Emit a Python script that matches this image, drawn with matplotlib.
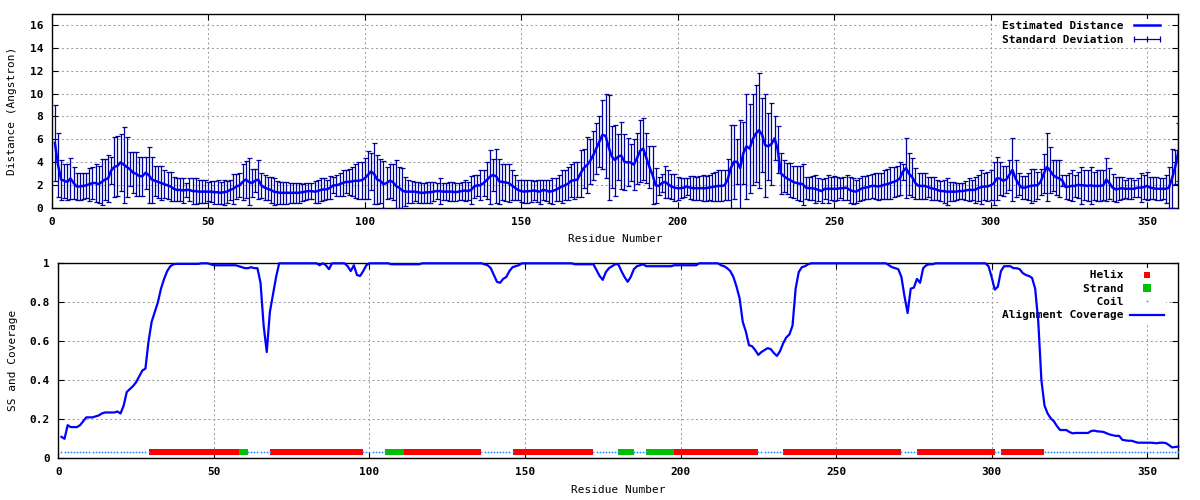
import numpy as np
import matplotlib
matplotlib.use('Agg')
import matplotlib.pyplot as plt
from matplotlib.lines import Line2D

# residues 1..360
residue = np.arange(1, 361)

# estimated distance (mean)
est_dist = [
    5.7, 3.8, 2.5, 2.4, 2.3, 2.6, 2.2, 1.9, 1.9, 1.95,
    2.0, 2.1, 2.2, 2.2, 2.1, 2.3, 2.5, 2.6, 3.3, 3.6,
    3.7, 4.0, 3.8, 3.6, 3.4, 3.1, 3.0, 2.8, 2.8, 3.1,
    2.9, 2.5, 2.4, 2.3, 2.2, 2.1, 2.0, 1.9, 1.7, 1.6,
    1.6, 1.55, 1.6, 1.6, 1.5, 1.5, 1.45, 1.45, 1.45, 1.45,
    1.45, 1.4, 1.4, 1.35, 1.4, 1.45, 1.6, 1.7, 1.9, 2.0,
    2.3, 2.5, 2.3, 2.2, 2.4, 2.5, 2.0, 1.8, 1.7, 1.6,
    1.45, 1.4, 1.35, 1.35, 1.35, 1.35, 1.35, 1.35, 1.35, 1.4,
    1.45, 1.5, 1.5, 1.45, 1.5, 1.6, 1.65, 1.65, 1.8, 2.0,
    2.0, 2.1, 2.2, 2.3, 2.3, 2.35, 2.4, 2.4, 2.45, 2.6,
    2.9, 3.2, 3.0, 2.5, 2.4, 2.1, 2.2, 2.4, 2.3, 1.95,
    1.8, 1.55, 1.45, 1.45, 1.45, 1.45, 1.4, 1.35, 1.35, 1.4,
    1.4, 1.45, 1.5, 1.5, 1.45, 1.45, 1.45, 1.45, 1.4, 1.45,
    1.5, 1.55, 1.5, 1.6, 1.9, 2.0, 2.0, 2.2, 2.45, 2.75,
    2.9, 2.8, 2.35, 2.3, 2.25, 2.2, 2.0, 1.8, 1.6, 1.5,
    1.45, 1.5, 1.5, 1.55, 1.5, 1.45, 1.6, 1.55, 1.45, 1.5,
    1.6, 1.75, 1.9, 2.0, 2.15, 2.4, 2.45, 2.5, 3.05, 3.5,
    3.75, 4.1, 4.6, 5.2, 5.8, 6.4, 6.3, 5.3, 4.5, 4.2,
    4.5, 4.6, 4.05, 4.0, 4.0, 3.8, 4.35, 5.0, 5.2, 4.4,
    3.6, 2.9, 2.0, 1.95, 2.2, 2.3, 2.1, 1.9, 1.8, 1.75,
    1.75, 1.8, 1.9, 1.8, 1.75, 1.75, 1.75, 1.75, 1.75, 1.8,
    1.85, 1.9, 1.95, 1.95, 2.0, 2.5, 3.5, 4.05, 4.05, 3.5,
    4.8, 5.4, 5.2, 6.0, 6.5, 6.8, 6.4, 5.5, 5.4, 5.6,
    6.1, 5.1, 3.05, 2.8, 2.6, 2.45, 2.3, 2.2, 2.15, 2.1,
    1.8, 1.75, 1.75, 1.7, 1.6, 1.5, 1.7, 1.7, 1.7, 1.7,
    1.7, 1.75, 1.75, 1.8, 1.6, 1.5, 1.45, 1.6, 1.75, 1.8,
    1.85, 1.95, 1.95, 1.9, 1.95, 2.05, 2.1, 2.2, 2.3, 2.4,
    2.6, 3.2, 3.5, 3.0, 2.7, 2.2, 1.95, 1.95, 1.95, 1.85,
    1.75, 1.7, 1.6, 1.5, 1.5, 1.45, 1.45, 1.45, 1.45, 1.5,
    1.5, 1.55, 1.6, 1.6, 1.6, 1.75, 1.85, 1.9, 1.9, 2.0,
    2.15, 2.6, 2.6, 2.4, 2.5, 2.9, 3.35, 2.6, 2.1, 1.8,
    1.8, 1.9, 1.95, 2.0, 2.0, 2.3, 3.0, 3.6, 3.3, 2.9,
    2.7, 2.6, 2.4, 1.85, 1.9, 1.95, 1.95, 2.05, 2.0, 2.0,
    1.95, 2.0, 1.95, 1.95, 1.95, 2.0, 2.5, 2.2, 1.8, 1.65,
    1.7, 1.75, 1.7, 1.7, 1.7, 1.7, 1.8, 1.8, 1.85, 1.95,
    1.8, 1.75, 1.7, 1.7, 1.7, 1.7, 1.8, 2.6, 3.6, 4.9,
]

# top of each error bar (mean + std)
upper_dev = [
    9.0, 6.6, 4.25, 3.9, 3.9, 4.4, 3.6, 3.1, 3.1, 3.1,
    3.1, 3.55, 3.6, 3.85, 3.7, 4.3, 4.3, 4.65, 4.5, 6.2,
    6.3, 6.45, 7.1, 6.2, 4.9, 4.9, 4.9, 4.5, 4.5, 4.5,
    5.3, 4.5, 3.7, 3.7, 3.7, 3.3, 3.2, 3.2, 2.75, 2.6,
    2.6, 2.6, 2.2, 2.6, 2.6, 2.6, 2.45, 2.45, 2.45, 2.3,
    2.35, 2.4, 2.45, 2.3, 2.5, 2.4, 2.5, 3.0, 3.0, 3.05,
    3.9, 4.1, 4.35, 3.4, 3.4, 4.2, 3.1, 2.9, 2.7, 2.7,
    2.6, 2.4, 2.3, 2.3, 2.3, 2.2, 2.2, 2.2, 2.2, 2.15,
    2.2, 2.2, 2.2, 2.4, 2.5, 2.6, 2.6, 2.5, 2.8, 2.7,
    2.9, 3.1, 3.3, 3.3, 3.4, 3.6, 3.9, 4.0, 4.05, 4.4,
    5.0, 4.8, 5.65, 4.65, 4.3, 4.15, 3.6, 3.9, 3.9, 4.2,
    3.6, 3.55, 2.7, 2.45, 2.4, 2.3, 2.3, 2.2, 2.2, 2.3,
    2.3, 2.3, 2.2, 2.6, 2.2, 2.2, 2.3, 2.3, 2.2, 2.2,
    2.3, 2.45, 2.3, 2.8, 2.9, 2.9, 3.3, 3.3, 4.05, 5.1,
    4.3, 5.15, 4.3, 3.85, 3.9, 3.85, 3.3, 2.9, 2.5, 2.45,
    2.45, 2.5, 2.45, 2.4, 2.45, 2.5, 2.45, 2.5, 2.45, 2.6,
    2.6, 2.9, 3.3, 3.3, 3.6, 3.85, 4.05, 4.0, 5.1, 5.2,
    6.2, 6.05, 6.75, 7.45, 8.0, 9.4, 10.0, 9.85, 7.2, 7.3,
    6.5, 7.5, 6.5, 6.1, 5.6, 6.0, 6.6, 7.7, 7.9, 6.6,
    5.4, 5.4, 3.5, 2.75, 3.0, 3.7, 3.3, 3.0, 3.0, 2.75,
    2.6, 2.6, 2.6, 2.8, 2.8, 2.75, 2.8, 2.9, 2.85, 2.9,
    3.1, 3.2, 3.3, 3.3, 3.3, 4.3, 7.25, 7.3, 6.0, 7.7,
    7.5, 10.0, 9.1, 10.0, 10.7, 11.8, 9.65, 10.0, 8.3, 9.2,
    8.0, 7.15, 4.85, 4.2, 3.95, 3.95, 3.7, 3.7, 3.7, 3.9,
    2.75, 2.75, 2.8, 2.9, 2.6, 2.55, 2.6, 2.9, 2.7, 2.8,
    2.7, 2.6, 2.75, 2.9, 2.75, 2.6, 2.45, 2.6, 2.8, 2.8,
    2.9, 3.0, 3.1, 3.1, 3.05, 3.3, 3.4, 3.6, 3.6, 3.7,
    4.05, 3.9, 6.1, 4.85, 4.4, 3.55, 3.1, 3.05, 3.05, 2.7,
    2.75, 2.7, 2.45, 2.4, 2.5, 2.65, 2.3, 2.3, 2.2, 2.2,
    2.2, 2.4, 2.6, 2.45, 2.75, 2.9, 3.3, 3.1, 3.2, 3.3,
    4.0, 4.5, 4.05, 3.7, 3.7, 4.2, 6.1, 4.2, 3.05, 2.8,
    2.8, 3.05, 3.4, 3.4, 3.2, 3.4, 4.7, 6.6, 5.3, 4.25,
    4.2, 4.25, 2.9, 2.9, 3.1, 3.3, 2.9, 3.2, 3.6, 3.3,
    3.3, 3.6, 3.2, 3.3, 3.3, 3.3, 4.35, 3.55, 3.0, 2.75,
    2.7, 2.7, 2.5, 2.6, 2.6, 2.45, 2.6, 3.05, 2.9, 3.2,
    2.75, 2.7, 2.7, 2.65, 2.6, 2.9, 3.6, 5.2, 5.1, 7.4,
]

# alignment coverage
coverage = [
    0.11, 0.10, 0.17, 0.16, 0.16, 0.16, 0.17, 0.19, 0.21, 0.21,
    0.21, 0.215, 0.22, 0.23, 0.235, 0.235, 0.235, 0.235, 0.24, 0.23,
    0.27, 0.34, 0.355, 0.37, 0.39, 0.42, 0.45, 0.46, 0.6, 0.7,
    0.75, 0.8, 0.87, 0.92, 0.96, 0.985, 0.995, 0.997, 0.997, 0.997,
    0.997, 0.997, 0.997, 0.997, 0.997, 1.0, 1.0, 1.0, 0.995, 0.99,
    0.99, 0.99, 0.99, 0.99, 0.99, 0.99, 0.99, 0.985, 0.98, 0.975,
    0.975, 0.98, 0.975, 0.975, 0.9, 0.68, 0.545, 0.75, 0.84, 0.93,
    1.0, 1.0, 1.0, 1.0, 1.0, 1.0, 1.0, 1.0, 1.0, 1.0,
    1.0, 1.0, 1.0, 0.99, 1.0, 0.99, 0.97, 1.0, 1.0, 1.0,
    1.0, 1.0, 0.985, 0.96, 0.99, 0.94, 0.935, 0.96, 0.99, 1.0,
    1.0, 1.0, 1.0, 1.0, 1.0, 1.0, 0.995, 0.995, 0.995, 0.995,
    0.995, 0.995, 0.995, 0.995, 0.995, 0.995, 1.0, 1.0, 1.0, 1.0,
    1.0, 1.0, 1.0, 1.0, 1.0, 1.0, 1.0, 1.0, 1.0, 1.0,
    1.0, 1.0, 1.0, 1.0, 1.0, 1.0, 0.995, 0.99, 0.975, 0.94,
    0.905, 0.9, 0.92, 0.93, 0.96, 0.98, 0.985, 0.99, 1.0, 1.0,
    1.0, 1.0, 1.0, 1.0, 1.0, 1.0, 1.0, 1.0, 1.0, 1.0,
    1.0, 1.0, 1.0, 1.0, 1.0, 0.995, 0.995, 0.995, 0.995, 0.995,
    0.995, 0.995, 0.965, 0.935, 0.915, 0.955, 0.975, 0.985, 0.995, 0.995,
    0.96, 0.93, 0.905, 0.93, 0.97, 0.985, 0.99, 0.995, 0.985, 0.985,
    0.985, 0.985, 0.985, 0.985, 0.985, 0.985, 0.985, 0.99, 0.99, 0.99,
    0.99, 0.99, 0.99, 0.99, 0.99, 1.0, 1.0, 1.0, 1.0, 1.0,
    1.0, 1.0, 0.99, 0.985, 0.975, 0.96, 0.93, 0.88, 0.82, 0.7,
    0.65, 0.58, 0.575, 0.555, 0.53, 0.545, 0.555, 0.565, 0.56, 0.54,
    0.525, 0.55, 0.59, 0.62, 0.635, 0.68, 0.87, 0.955, 0.98, 0.985,
    0.995, 1.0, 1.0, 1.0, 1.0, 1.0, 1.0, 1.0, 1.0, 1.0,
    1.0, 1.0, 1.0, 1.0, 1.0, 1.0, 1.0, 1.0, 1.0, 1.0,
    1.0, 1.0, 1.0, 1.0, 1.0, 1.0, 0.99, 0.98, 0.975, 0.97,
    0.93, 0.83, 0.745, 0.87, 0.875, 0.92, 0.9, 0.975, 0.99, 0.995,
    0.995, 1.0, 1.0, 1.0, 1.0, 1.0, 1.0, 1.0, 1.0, 1.0,
    1.0, 1.0, 1.0, 1.0, 1.0, 1.0, 1.0, 1.0, 0.985, 0.93,
    0.865, 0.88, 0.96, 0.985, 0.985, 0.985, 0.975, 0.975, 0.97, 0.95,
    0.94, 0.935, 0.925, 0.87, 0.7, 0.4, 0.27, 0.23, 0.205, 0.19,
    0.165, 0.145, 0.145, 0.145, 0.135, 0.128, 0.13, 0.13, 0.13, 0.13,
    0.13, 0.14, 0.142, 0.138, 0.137, 0.135, 0.128, 0.122, 0.118, 0.115,
    0.115, 0.095, 0.092, 0.09, 0.09, 0.085, 0.08, 0.08, 0.08, 0.08,
    0.08, 0.079, 0.077, 0.08, 0.08, 0.078, 0.068, 0.056, 0.058, 0.06,
]

# secondary structure segments (first, last residue)
helix_segments = [(30, 58), (69, 97), (111, 135), (147, 171),
                  (198, 224), (234, 270), (277, 300), (304, 316)]
strand_segments = [(59, 60), (106, 110), (181, 184), (190, 197)]
ss_level = 0.03

std_dev = np.array(upper_dev) - np.array(est_dist)

helix_res = np.concatenate([np.arange(a, b + 1) for a, b in helix_segments])
strand_res = np.concatenate([np.arange(a, b + 1) for a, b in strand_segments])
coil_res = np.setdiff1d(residue, np.concatenate([helix_res, strand_res]))

plt.rcParams['font.family'] = 'DejaVu Sans Mono'
plt.rcParams['font.weight'] = 'bold'
plt.rcParams['font.size'] = 8

fig = plt.figure(figsize=(12, 5), dpi=100)
ax1 = fig.add_axes([0.0431, 0.5834, 0.9388, 0.388])
ax2 = fig.add_axes([0.0486, 0.0834, 0.9333, 0.39])

grid_kw = dict(color='#a0a0a0', linestyle=(0, (2, 2.5)), linewidth=0.75)
leg_kw = dict(loc='upper right', bbox_to_anchor=(0.989, 0.975),
              markerfirst=False, handlelength=3.0, handletextpad=0.6,
              labelspacing=0.3, borderpad=0.2, borderaxespad=0,
              fancybox=False, framealpha=1, edgecolor='none', facecolor='white')

# ---- top: estimated distance with error bars
ax1.errorbar(residue, est_dist, yerr=std_dev, fmt='none', ecolor='#00009c',
             elinewidth=0.9, capsize=1.8, capthick=0.9, zorder=3)
mean_line, = ax1.plot(residue, est_dist, color='#0000ff', lw=1.8, zorder=4)
ax1.set_xlim(0, 360)
ax1.set_ylim(0, 16.9)
ax1.set_xticks(np.arange(0, 351, 50))
ax1.set_yticks(np.arange(0, 17, 2))
ax1.grid(True, **grid_kw)
ax1.set_xlabel('Residue Number')
ax1.set_ylabel('Distance (Angstron)')
ax1.xaxis.set_label_coords(0.5, -0.135)
ax1.yaxis.set_label_coords(-0.031, 0.5)

sd_proxy = Line2D([], [], color='#00009c', lw=0.9, marker='|',
                  markersize=5, markeredgewidth=0.9)
leg1 = ax1.legend([mean_line, sd_proxy], ['Estimated Distance', 'Standard Deviation'],
                  numpoints=3, **leg_kw)
leg1.set_zorder(2.5)

# ---- bottom: secondary structure and coverage
h_helix, = ax2.plot(helix_res, np.full(len(helix_res), ss_level), 's', color='#ff0000',
                    markersize=4.2, markeredgewidth=0, zorder=3, clip_on=False)
h_strand, = ax2.plot(strand_res, np.full(len(strand_res), ss_level), 's', color='#00c000',
                     markersize=4.8, markeredgewidth=0, zorder=3, clip_on=False)
h_coil, = ax2.plot(coil_res, np.full(len(coil_res), ss_level), '.', color='#2a8cff',
                   markersize=2.6, markeredgewidth=0, zorder=3)
cov_line, = ax2.plot(residue, coverage, color='#0000ff', lw=1.6, zorder=4, clip_on=False)
ax2.set_xlim(0, 360)
ax2.set_ylim(0, 1)
ax2.set_xticks(np.arange(0, 351, 50))
ax2.set_yticks(np.arange(0, 1.01, 0.2))
ax2.set_yticklabels(['0', '0.2', '0.4', '0.6', '0.8', '1'])
ax2.grid(True, **grid_kw)
ax2.set_xlabel('Residue Number')
ax2.set_ylabel('SS and Coverage')
ax2.xaxis.set_label_coords(0.5, -0.135)
ax2.yaxis.set_label_coords(-0.036, 0.5)

leg2 = ax2.legend([h_helix, h_strand, h_coil, cov_line],
                  ['             Helix', '            Strand', '              Coil',
                   'Alignment Coverage'],
                  numpoints=1, **leg_kw)
leg2.set_zorder(2.5)
leg2.legend_handles[0].set_markersize(4.0)
leg2.legend_handles[1].set_markersize(5.5)
leg2.legend_handles[2].set_markersize(2.6)

for ax in (ax1, ax2):
    ax.tick_params(direction='in', length=4, width=0.8, top=True, right=True,
                   labelsize=8, pad=6)
    for s in ax.spines.values():
        s.set_linewidth(1.0)
    ax.set_axisbelow(True)

fig.savefig('out.png', dpi=100)
